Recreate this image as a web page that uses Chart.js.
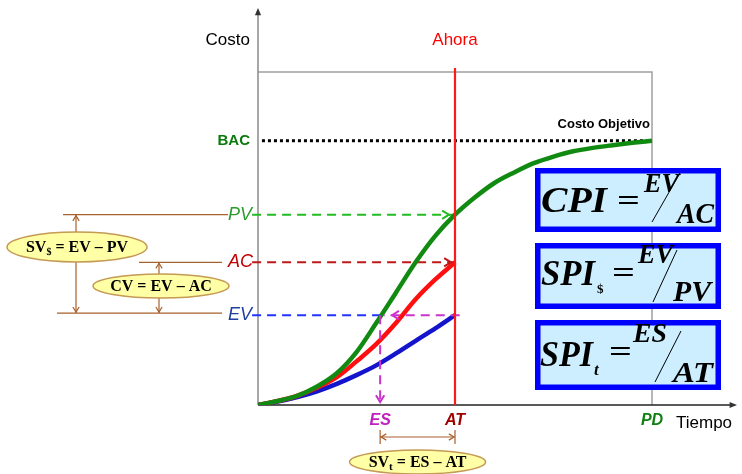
<!DOCTYPE html>
<html>
<head>
<meta charset="utf-8">
<script src="https://cdn.jsdelivr.net/npm/chart.js@4"></script>
<style>
body { margin: 0; background: #fff; }
#wrap { width: 742px; height: 474px; }
</style>
</head>
<body>
<div id="wrap"><canvas id="evm-chart"></canvas></div>
<script>
// time runs 0..PD, cost runs 0..BAC (with some head room above BAC)
const timeSteps = [0, 0.5, 1, 1.5, 2, 2.5, 3, 3.5, 4, 4.5, 5, 5.5, 6, 6.5, 7, 7.5, 8, 8.5, 9, 9.5, 10];
const pvValues = [0, 1.5, 3.5, 7, 12, 20, 31, 42.5, 54, 64, 72, 78.5, 84, 88, 91.5, 94, 96, 97.3, 98.3, 99.2, 100];
const acValues = [0, 1.5, 3.5, 6.5, 10.5, 16.5, 23, 31, 40, 47.5, 54];
const evValues = [0, 1.3, 3, 5.2, 8, 11.3, 15, 19.5, 24.3, 29, 34];

const BAC = 100;
const PD = 10;
const AT = 5;
const ES = 3.1;
const PV_AT = pvValues[10];
const AC_AT = acValues[10];
const EV_AT = evValues[10];

const toPoints = vals => vals.map((v, i) => ({ x: timeSteps[i], y: v }));

function chevron(ctx, x, y, ang, size, color, lw) {
    ctx.save();
    ctx.strokeStyle = color;
    ctx.lineWidth = lw || 2;
    ctx.setLineDash([]);
    ctx.beginPath();
    ctx.moveTo(x + size * Math.cos(ang + Math.PI - 0.55), y + size * Math.sin(ang + Math.PI - 0.55));
    ctx.lineTo(x, y);
    ctx.lineTo(x + size * Math.cos(ang + Math.PI + 0.55), y + size * Math.sin(ang + Math.PI + 0.55));
    ctx.stroke();
    ctx.restore();
}

function solidArrow(ctx, x, y, ang, size, color) {
    ctx.save();
    ctx.fillStyle = color;
    ctx.beginPath();
    ctx.moveTo(x, y);
    ctx.lineTo(x + size * Math.cos(ang + Math.PI - 0.4), y + size * Math.sin(ang + Math.PI - 0.4));
    ctx.lineTo(x + size * Math.cos(ang + Math.PI + 0.4), y + size * Math.sin(ang + Math.PI + 0.4));
    ctx.closePath();
    ctx.fill();
    ctx.restore();
}

function text(ctx, str, x, y, font, color, align) {
    ctx.font = font;
    ctx.fillStyle = color;
    ctx.textAlign = align || 'left';
    ctx.textBaseline = 'middle';
    ctx.fillText(str, x, y);
}

// parts: [text, font, dy]; centred on cx, sitting on baseline by
function richText(ctx, parts, cx, by) {
    ctx.textBaseline = 'alphabetic';
    ctx.textAlign = 'left';
    let w = 0;
    parts.forEach(p => { ctx.font = p[1]; w += ctx.measureText(p[0]).width; });
    let px = cx - w / 2;
    ctx.fillStyle = '#000';
    parts.forEach(p => {
        ctx.font = p[1];
        ctx.fillText(p[0], px, by + (p[2] || 0));
        px += ctx.measureText(p[0]).width;
    });
}

function bubble(ctx, cx, cy, rx, ry, parts) {
    ctx.save();
    ctx.beginPath();
    ctx.ellipse(cx, cy, rx, ry, 0, 0, Math.PI * 2);
    ctx.fillStyle = '#FFFFA6';
    ctx.fill();
    ctx.strokeStyle = '#C49A55';
    ctx.lineWidth = 1.5;
    ctx.stroke();
    richText(ctx, parts, cx, cy + 5);
    ctx.restore();
}

// pieces: [text, x, baseline, font, width]; width stretches the glyphs sideways
function formulaBox(ctx, top, bottom, pieces, slash) {
    const left = 535, right = 721;
    ctx.save();
    ctx.fillStyle = '#CCEEFF';
    ctx.fillRect(left, top, right - left, bottom - top);
    ctx.strokeStyle = '#0000FF';
    ctx.lineWidth = 5.5;
    ctx.strokeRect(left + 2.75, top + 2.75, right - left - 5.5, bottom - top - 5.5);
    ctx.fillStyle = '#000';
    ctx.textAlign = 'left';
    ctx.textBaseline = 'alphabetic';
    pieces.forEach(p => {
        ctx.font = p[3];
        const sx = p[4] ? p[4] / ctx.measureText(p[0]).width : 1;
        ctx.save();
        ctx.translate(p[1], p[2]);
        ctx.scale(sx, 1);
        ctx.fillText(p[0], 0, 0);
        ctx.restore();
    });
    ctx.strokeStyle = '#000';
    ctx.lineWidth = 1;
    ctx.beginPath();
    ctx.moveTo(slash[0], slash[1]);
    ctx.lineTo(slash[2], slash[3]);
    ctx.stroke();
    ctx.restore();
}

const serifBI = s => 'italic bold ' + s + 'px "Liberation Serif"';
const serifB = s => 'bold ' + s + 'px "Liberation Serif"';

const evmDecor = {
    id: 'evmDecor',
    beforeDatasetsDraw(chart) {
        const { ctx, chartArea: a } = chart;
        ctx.save();
        ctx.strokeStyle = '#a0a0a0';
        ctx.lineWidth = 1.5;
        ctx.beginPath();
        ctx.moveTo(a.left, a.top);
        ctx.lineTo(a.right, a.top);
        ctx.lineTo(a.right, a.bottom);
        ctx.stroke();
        // axes with arrows
        ctx.strokeStyle = '#8a8a8a';
        ctx.beginPath();
        ctx.moveTo(a.left, a.bottom);
        ctx.lineTo(a.left, 14);
        ctx.stroke();
        solidArrow(ctx, a.left, 8, -Math.PI / 2, 8, '#333');
        ctx.strokeStyle = '#222';
        ctx.beginPath();
        ctx.moveTo(a.left, a.bottom);
        ctx.lineTo(731, a.bottom);
        ctx.stroke();
        solidArrow(ctx, 737, a.bottom, 0, 8, '#333');
        ctx.restore();
    },
    afterDatasetsDraw(chart) {
        const { ctx, scales: { x, y } } = chart;
        const xAT = x.getPixelForValue(AT), xES = x.getPixelForValue(ES), xPD = x.getPixelForValue(PD);
        const yPV = y.getPixelForValue(PV_AT), yAC = y.getPixelForValue(AC_AT), yEV = y.getPixelForValue(EV_AT);
        const yBAC = y.getPixelForValue(BAC);
        ctx.save();

        // arrow heads on the dashed guides
        chevron(ctx, xAT - 6, yPV, 0, 8, '#22BB22', 2);
        chevron(ctx, xAT - 4, yAC, 0, 8, '#C01818', 2);
        chevron(ctx, xES + 12, yEV, Math.PI, 8, '#CC33CC', 2);
        chevron(ctx, xES, y.getPixelForValue(0) - 3, Math.PI / 2, 8, '#CC33CC', 2);

        // axis texts
        const sans = 'px "Liberation Sans"';
        text(ctx, 'Costo', 250, 40, '17' + sans, '#000', 'right');
        text(ctx, 'Ahora', xAT, 40, '17' + sans, '#FF0000', 'center');
        text(ctx, 'Tiempo', 676, 423, '17' + sans, '#000', 'left');
        text(ctx, 'Costo Objetivo', 650, 124, 'bold 13' + sans, '#000', 'right');
        text(ctx, 'BAC', 250, yBAC, 'bold 15' + sans, '#0A7A0A', 'right');
        text(ctx, 'PV', 252, yPV, 'italic 18' + sans, '#2E9B2E', 'right');
        text(ctx, 'AC', 253, yAC, 'italic 18' + sans, '#C00000', 'right');
        text(ctx, 'EV', 252, yEV, 'italic 18' + sans, '#2040A0', 'right');
        text(ctx, 'ES', xES, 421, 'italic bold 16' + sans, '#C020C0', 'center');
        text(ctx, 'AT', xAT, 421, 'italic bold 16' + sans, '#A00000', 'center');
        text(ctx, 'PD', xPD, 421, 'italic bold 16' + sans, '#108010', 'center');

        // variance brackets
        const brown = '#A8602C';
        ctx.strokeStyle = brown;
        ctx.lineWidth = 1.2;
        ctx.setLineDash([]);
        ctx.beginPath();
        ctx.moveTo(63, yPV); ctx.lineTo(228, yPV);
        ctx.moveTo(139, yAC); ctx.lineTo(222, yAC);
        ctx.moveTo(57, yEV - 2); ctx.lineTo(222, yEV - 2);
        ctx.moveTo(76, yPV); ctx.lineTo(76, yEV - 2);
        ctx.moveTo(159, yAC); ctx.lineTo(159, yEV - 2);
        ctx.moveTo(xES, 437); ctx.lineTo(xAT, 437);
        ctx.moveTo(xES, 430); ctx.lineTo(xES, 444);
        ctx.moveTo(xAT, 430); ctx.lineTo(xAT, 444);
        ctx.stroke();
        chevron(ctx, 76, yPV + 1, -Math.PI / 2, 6, brown, 1.2);
        chevron(ctx, 76, yEV - 3, Math.PI / 2, 6, brown, 1.2);
        chevron(ctx, 159, yAC + 1, -Math.PI / 2, 6, brown, 1.2);
        chevron(ctx, 159, yEV - 3, Math.PI / 2, 6, brown, 1.2);
        chevron(ctx, xES + 1, 437, Math.PI, 6, brown, 1.2);
        chevron(ctx, xAT - 1, 437, 0, 6, brown, 1.2);

        bubble(ctx, 77, 247, 70, 15, [['SV', serifB(16)], ['$', serifB(10), 3], [' = EV \u2013 PV', serifB(16)]]);
        bubble(ctx, 161, 286, 68, 12, [['CV = EV \u2013 AC', serifB(16)]]);
        bubble(ctx, (xES + xAT) / 2, 462, 68, 12, [['SV', serifB(16)], ['t', serifB(11), 3], [' = ES \u2013 AT', serifB(16)]]);

        // index formulas
        formulaBox(ctx, 168, 232, [
            ['CPI', 541, 212, serifBI(36), 66],
            ['=', 617, 210, serifB(30), 23],
            ['EV', 644, 192, serifBI(27), 35],
            ['AC', 677, 223, serifBI(30), 37]
        ], [680, 173, 652, 222]);
        formulaBox(ctx, 243, 309, [
            ['SPI', 541, 285, serifBI(36), 54],
            ['$', 597, 293, serifB(13)],
            ['=', 612, 282, serifB(30), 23],
            ['EV', 638, 263, serifBI(27), 35],
            ['PV', 673, 301, serifBI(30), 38]
        ], [677, 250, 653, 302]);
        formulaBox(ctx, 320, 390, [
            ['SPI', 540, 366, serifBI(36), 53],
            ['t', 594, 375, serifBI(17)],
            ['=', 609, 361, serifB(30), 23],
            ['ES', 633, 342, serifBI(27), 34],
            ['AT', 673, 382, serifBI(30), 40]
        ], [681, 331, 655, 382]);

        ctx.restore();
    }
};

const curve = (label, vals, color) => ({
    label: label,
    data: toPoints(vals),
    borderColor: color,
    borderWidth: 4.5,
    cubicInterpolationMode: 'monotone',
    pointRadius: 0,
    fill: false
});

const guide = (label, pts, color, dash, width) => ({
    label: label,
    data: pts,
    borderColor: color,
    borderWidth: width || 2,
    borderDash: dash,
    borderCapStyle: 'butt',
    tension: 0,
    pointRadius: 0,
    fill: false,
    clip: false
});

const ctx = document.getElementById('evm-chart').getContext('2d');
const evmChart = new Chart(ctx, {
    type: 'line',
    data: {
        datasets: [
            guide('Ahora', [{ x: AT, y: 0 }, { x: AT, y: 127.5 }], '#FF1A1A', [], 2.2),
            guide('ES vertical', [{ x: ES, y: EV_AT }, { x: ES, y: 1 }], '#CC33CC', [9, 6]),
            guide('ES horizontal', [{ x: AT + 0.12, y: EV_AT }, { x: ES + 0.1, y: EV_AT }], '#CC33CC', [9, 6]),
            curve('PV', pvValues, '#118A11'),
            curve('AC', acValues, '#FF1010'),
            curve('EV', evValues, '#1414CC'),
            guide('PV level', [{ x: -0.15, y: PV_AT }, { x: AT, y: PV_AT }], '#22BB22', [9, 6]),
            guide('AC level', [{ x: -0.15, y: AC_AT }, { x: AT, y: AC_AT }], '#C01818', [9, 6]),
            guide('EV level', [{ x: -0.15, y: EV_AT }, { x: ES, y: EV_AT }], '#2233FF', [9, 6]),
            guide('BAC', [{ x: 0.1, y: BAC }, { x: PD, y: BAC }], '#000', [3, 3], 3)
        ]
    },
    options: {
        responsive: true,
        maintainAspectRatio: false,
        animation: false,
        layout: { padding: { left: 258, right: 90, top: 72, bottom: 69 } },
        plugins: {
            legend: { display: false },
            tooltip: { enabled: false }
        },
        scales: {
            x: { type: 'linear', min: 0, max: PD, display: false },
            y: { min: 0, max: 126, display: false }
        }
    },
    plugins: [ evmDecor ]
});
</script>
</body>
</html>
